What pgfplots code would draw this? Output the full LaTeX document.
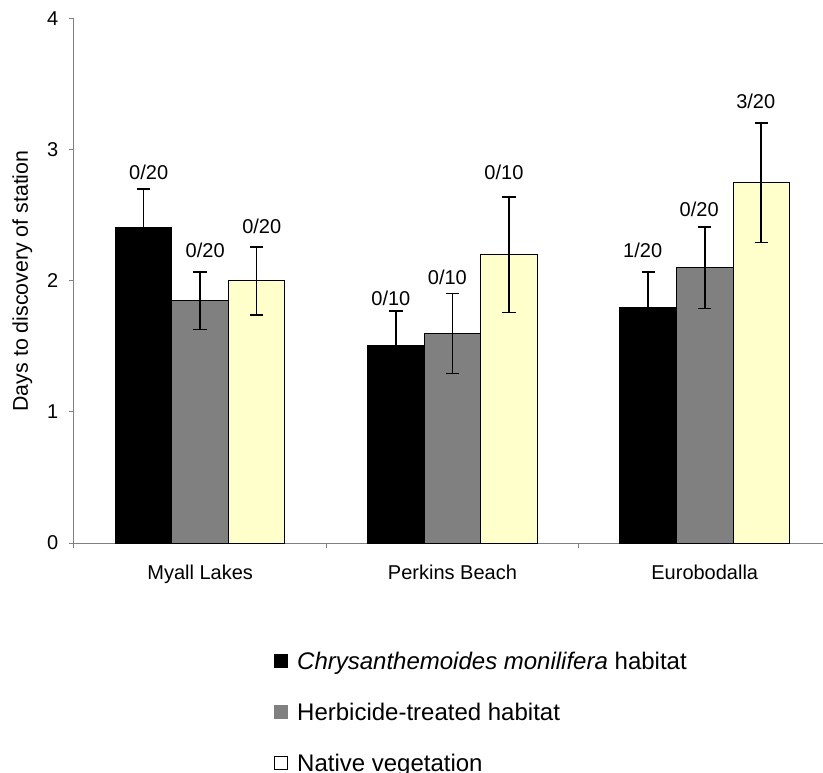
\documentclass[border=0pt]{standalone}
\usepackage{pgfplots}
\pgfplotsset{compat=1.18}
\usepackage{fontspec}
\setmainfont{Liberation Sans}
\definecolor{barGray}{HTML}{808080}
\definecolor{barYellow}{HTML}{FFFFCC}
\definecolor{axGray}{HTML}{808080}
\begin{document}
\begin{tikzpicture}[font=\fontsize{15}{18}\selectfont]
\path[use as bounding box] (-55.5pt,-172.5pt) rectangle (561.75pt,407.25pt);
\begin{axis}[
  at={(0pt,0pt)}, anchor=south west,
  scale only axis, width=561.75pt, height=393pt,
  xmin=-0.5, xmax=2.4687, ymin=0, ymax=4,
  ybar=0pt, bar width=0.224,
  clip=false,
  axis x line*=bottom, axis y line*=left,
  axis line style={axGray, line width=0.75pt, -},
  tick style={axGray, line width=0.75pt},
  tick align=outside, major tick length=3.75pt,
  xtick={-0.5,0.5,1.5}, xticklabels={},
  extra x ticks={0,1,2},
  extra x tick labels={Myall Lakes, Perkins Beach, Eurobodalla},
  extra x tick style={major tick length=0pt},
  x tick label style={yshift=-12.75pt},
  y tick label style={xshift=-4.5pt},
  ytick={0,1,2,3,4},
  /pgf/number format/assume math mode=true,
  tick label style={font=\fontsize{15}{18}\selectfont},
  ylabel={Days to discovery of station},
  every axis y label/.style={at={(axis description cs:-0.0688,0.5)}, rotate=90, anchor=center, font=\fontsize{16}{19}\selectfont},
  legend image code/.code={\draw[#1, line width=0.5pt] (0pt,-2.9pt) rectangle (9.4pt,6.5pt);},
  legend cell align=left,
  legend style={at={(axis description cs:0.267,-0.2074)}, anchor=north west, draw=none, fill=none,
    inner sep=0pt, outer sep=0pt, font=\fontsize{18}{21}\selectfont, row sep=21.25pt, column sep=7.5pt,
    nodes={inner sep=0pt, text height=13pt, text depth=4pt}},
  error bars/error bar style={black, line width=1.2pt},
  error bars/error mark options={rotate=90, mark size=5pt, line width=1.2pt, black},
]
\addplot+[forget plot, bar shift=-0.224, fill=black, draw=black, line width=0.75pt,
  error bars/.cd, y dir=both, y explicit]
  coordinates {(0,2.41) +- (0,0.29) (1,1.51) +- (0,0.26) (2,1.80) +- (0,0.27)};
\addplot+[forget plot, bar shift=0, fill=barGray, draw=black, line width=0.75pt,
  error bars/.cd, y dir=both, y explicit]
  coordinates {(0,1.85) +- (0,0.22) (1,1.60) +- (0,0.305) (2,2.10) +- (0,0.31)};
\addplot+[forget plot, bar shift=0.224, fill=barYellow, draw=black, line width=0.75pt,
  error bars/.cd, y dir=both, y explicit]
  coordinates {(0,2.00) +- (0,0.26) (1,2.20) +- (0,0.44) (2,2.75) +- (0,0.455)};
\addlegendimage{fill=black, draw=black}
\addlegendentry{\textit{Chrysanthemoides monilifera} habitat}
\addlegendimage{fill=barGray, draw=barGray}
\addlegendentry{Herbicide-treated habitat}
\addlegendimage{fill=white, draw=black}
\addlegendentry{Native vegetation}
\node[inner sep=0pt] at (axis cs:-0.204,2.826) {0/20};
\node[inner sep=0pt] at (axis cs:0.020,2.235) {0/20};
\node[inner sep=0pt] at (axis cs:0.244,2.420) {0/20};
\node[inner sep=0pt] at (axis cs:0.756,1.866) {0/10};
\node[inner sep=0pt] at (axis cs:0.980,2.028) {0/10};
\node[inner sep=0pt] at (axis cs:1.204,2.830) {0/10};
\node[inner sep=0pt] at (axis cs:1.754,2.235) {1/20};
\node[inner sep=0pt] at (axis cs:1.978,2.548) {0/20};
\node[inner sep=0pt] at (axis cs:2.202,3.372) {3/20};
\end{axis}
\end{tikzpicture}
\end{document}
